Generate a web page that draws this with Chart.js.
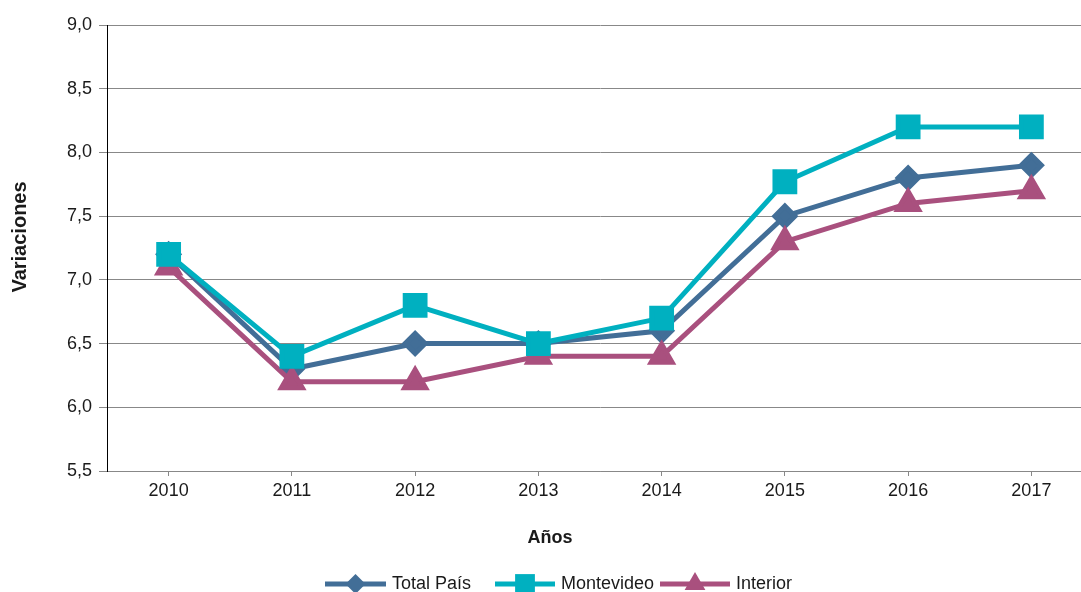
<!DOCTYPE html>
<html>
<head>
<meta charset="utf-8">
<script src="https://cdn.jsdelivr.net/npm/chart.js@4"></script>
<style>
  html, body { margin: 0; padding: 0; background: #fff; overflow: hidden; }
  /* the plot runs a little past the right edge, as in the original */
  #wrap { width: 1081px; height: 592px; overflow: hidden; }
</style>
</head>
<body>
<div id="wrap"><canvas id="lineChart" width="1094" height="592"></canvas></div>
<script>
const years = ['2010', '2011', '2012', '2013', '2014', '2015', '2016', '2017'];
const totalPais = [7.2, 6.3, 6.5, 6.5, 6.6, 7.5, 7.8, 7.9];
const montevideo = [7.2, 6.4, 6.8, 6.5, 6.7, 7.77, 8.2, 8.2];
const interior = [7.1, 6.2, 6.2, 6.4, 6.4, 7.3, 7.6, 7.7];
const yTicks = [5.5, 6.0, 6.5, 7.0, 7.5, 8.0, 8.5, 9.0];

const FONT = "'Liberation Sans', Arial, sans-serif";
const TEXT = '#1a1a1a';

// axis titles + legend drawn by hand (legend shows line with marker in the middle)
const extras = {
    id: 'extras',
    afterDraw(chart) {
        const ctx = chart.ctx;
        ctx.save();
        ctx.fillStyle = TEXT;
        ctx.textAlign = 'center';
        ctx.textBaseline = 'middle';

        ctx.font = 'bold 18px ' + FONT;
        ctx.fillText('Años', 550, 538);

        ctx.save();
        ctx.translate(20, 237);
        ctx.rotate(-Math.PI / 2);
        ctx.font = 'bold 20px ' + FONT;
        ctx.fillText('Variaciones', 0, 0);
        ctx.restore();

        const y = 584;
        const starts = [325, 495, 660];
        const lens = [61, 60, 70];
        ctx.font = '18px ' + FONT;
        ctx.textAlign = 'left';
        chart.data.datasets.forEach((ds, i) => {
            const x = starts[i];
            ctx.strokeStyle = ds.borderColor;
            ctx.lineWidth = 5;
            ctx.beginPath();
            ctx.moveTo(x, y);
            ctx.lineTo(x + lens[i], y);
            ctx.stroke();
            ctx.fillStyle = ds.borderColor;
            Chart.helpers.drawPoint(ctx, {
                pointStyle: ds.pointStyle,
                radius: ds.pointRadius,
                borderWidth: 0
            }, x + lens[i] / 2, y);
            ctx.fillStyle = TEXT;
            ctx.fillText(ds.label, x + lens[i] + 6, y);
        });
        ctx.restore();
    }
};

new Chart(document.getElementById('lineChart').getContext('2d'), {
    type: 'line',
    data: {
        labels: years,
        datasets: [
            {
                label: 'Total País',
                data: totalPais,
                borderColor: '#426e97',
                backgroundColor: '#426e97',
                borderWidth: 5,
                pointStyle: 'rectRot',
                pointRadius: 10,
                order: 3
            },
            {
                label: 'Montevideo',
                data: montevideo,
                borderColor: '#00b0c0',
                backgroundColor: '#00b0c0',
                borderWidth: 5,
                pointStyle: 'rect',
                pointRadius: 14,
                order: 1
            },
            {
                label: 'Interior',
                data: interior,
                borderColor: '#a9507e',
                backgroundColor: '#a9507e',
                borderWidth: 5,
                pointStyle: 'triangle',
                pointRadius: 12,
                order: 2
            }
        ]
    },
    options: {
        responsive: false,
        animation: false,
        layout: { autoPadding: false, padding: { top: 25, right: 1, left: 0, bottom: 0 } },
        plugins: {
            legend: { display: false },
            tooltip: { enabled: false }
        },
        elements: {
            line: { tension: 0 },
            point: { borderWidth: 0 }
        },
        scales: {
            x: {
                offset: true,
                grid: {
                    drawOnChartArea: false,
                    drawTicks: true,
                    tickLength: 5,
                    color: '#888'
                },
                border: { color: '#888', width: 1 },
                ticks: {
                    color: TEXT,
                    font: { family: FONT, size: 18 },
                    padding: 4
                },
                afterFit(scale) {
                    scale.height = 121;
                    scale.paddingLeft = 0;
                    scale.paddingRight = 0;
                }
            },
            y: {
                min: 5.5,
                max: 9,
                afterBuildTicks(scale) {
                    scale.ticks = yTicks.map(v => ({ value: v }));
                },
                grid: {
                    color: '#888',
                    tickLength: 8
                },
                border: { color: '#000', width: 1 },
                ticks: {
                    color: TEXT,
                    font: { family: FONT, size: 18 },
                    padding: 7,
                    callback: v => v.toFixed(1).replace('.', ',')
                },
                afterFit(scale) { scale.width = 107; }
            }
        }
    },
    plugins: [extras]
});
</script>
</body>
</html>
